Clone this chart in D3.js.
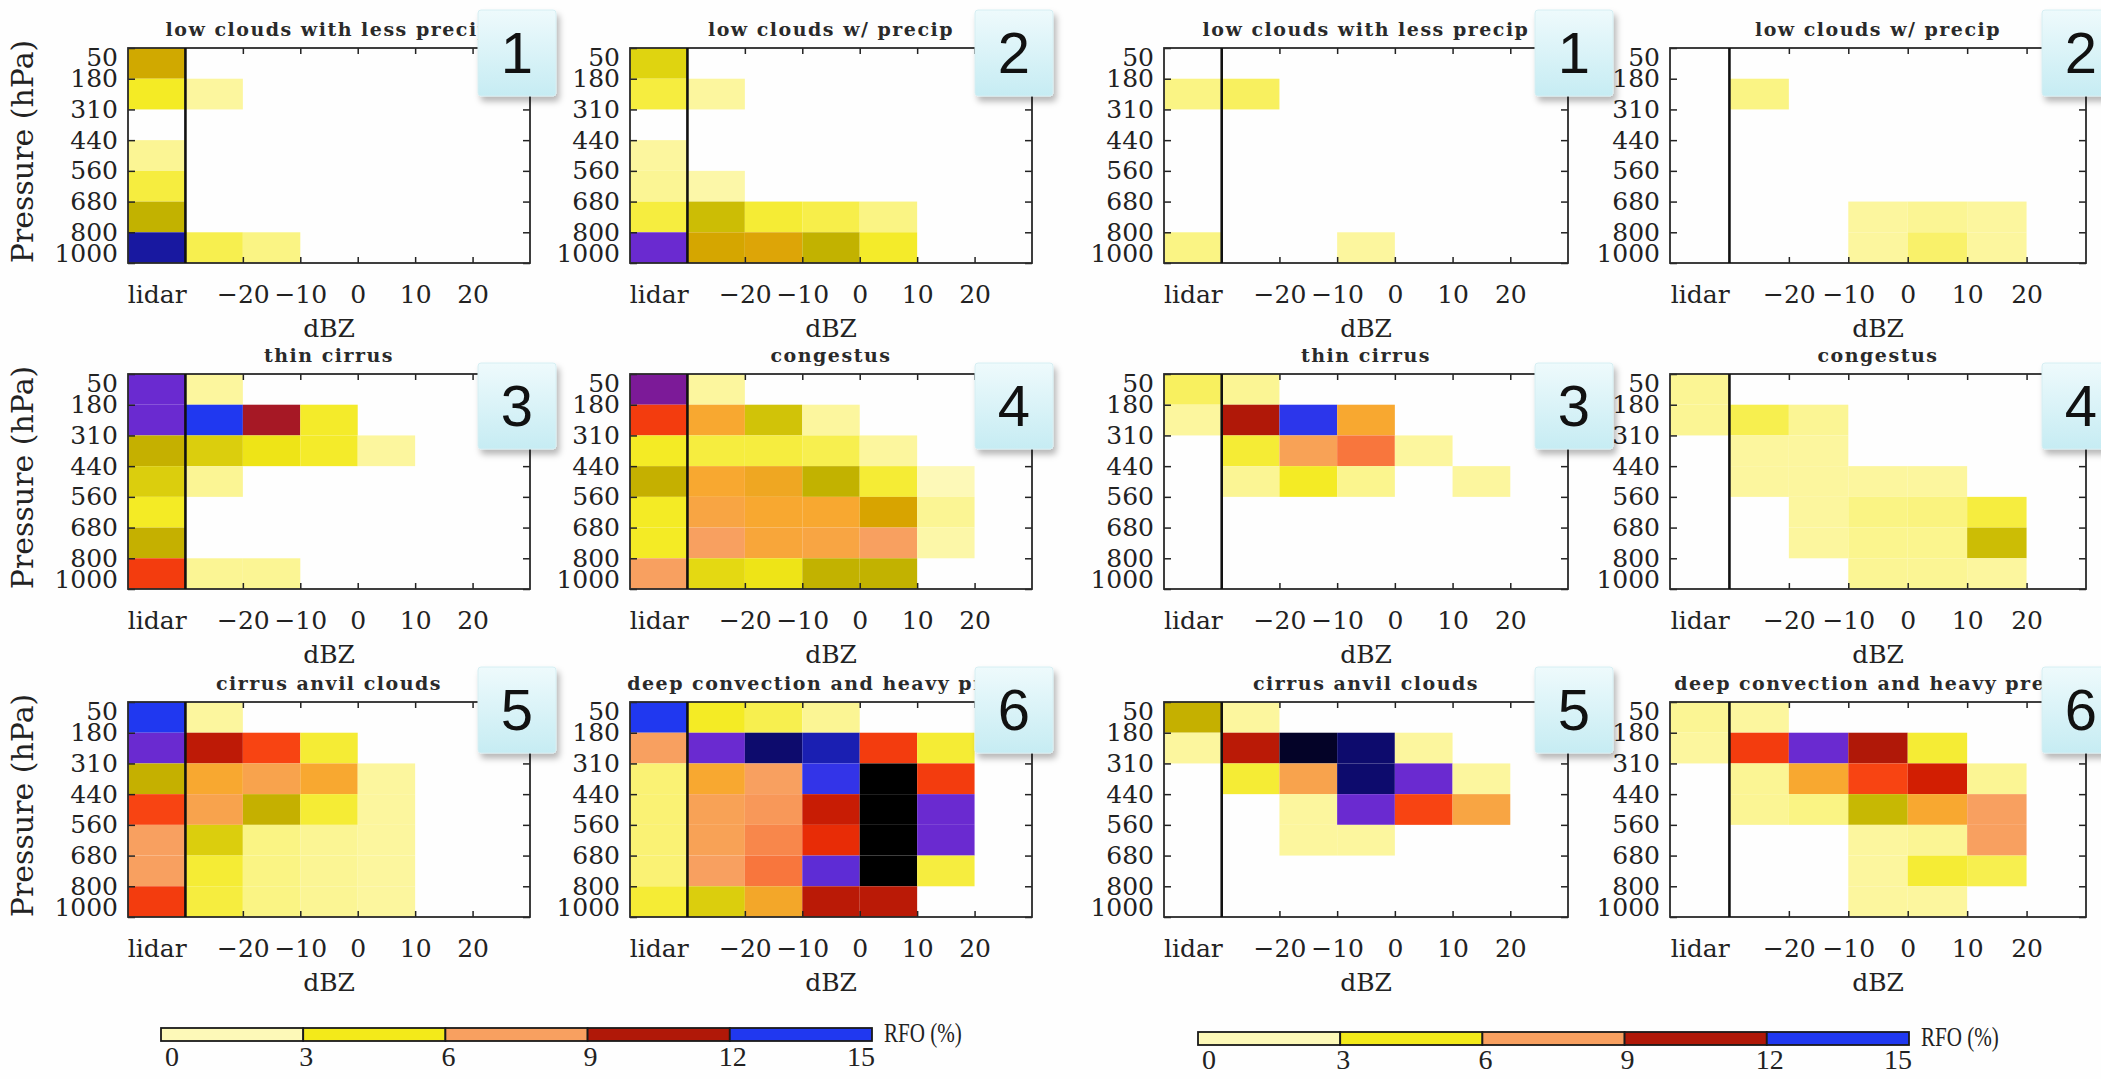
<!DOCTYPE html>
<html>
<head>
<meta charset="utf-8">
<script src="https://cdn.jsdelivr.net/npm/d3@7"></script>
<style>
  body { margin: 0; background: #fff; }
  svg { display: block; }
</style>
</head>
<body>
<svg id="chart" width="2101" height="1079"></svg>
<script>
// pressure levels (row edges) and dBZ bin edges (first bin = lidar column)
const levels = [50, 180, 310, 440, 560, 680, 800, 1000]
const binEdges = [-40, -30, -20, -10, 0, 10, 20, 30]
const xTicks = [-35, -20, -10, 0, 10, 20]
const titles = ['low clouds with less precip', 'low clouds w/ precip', 'thin cirrus',
                'congestus', 'cirrus anvil clouds', 'deep convection and heavy precip']
const boxLabels = ['1', '2', '3', '4', '5', '6']
const rfoTicks = [0, 3, 6, 9, 12, 15]

// RFO colour table
const colorStops = [0, 1, 1.5, 3, 4.5, 5.5, 6.3, 7, 7.5, 8.6, 9.5, 10.5, 11.5, 12.3, 13.5, 14.8, 15.8, 17]
const colorRange = ['#ffffff', '#fefcd8', '#fdf9b8', '#f9f16a', '#f3ea1a', '#c2b200', '#d8a400', '#f8a830',
                    '#f8a060', '#f84412', '#e02000', '#b01808', '#7c1a98', '#6a2ad0', '#2038f0', '#1818a0',
                    '#0a0860', '#000000']

// RFO (%) per panel: rows = pressure layers top->bottom, cols = lidar, -30..-20, ..., 20..30 dBZ
const leftLowLess = [
  [6.0, 0, 0, 0, 0, 0, 0],
  [4.3, 2.0, 0, 0, 0, 0, 0],
  [0, 0, 0, 0, 0, 0, 0],
  [2.2, 0, 0, 0, 0, 0, 0],
  [3.8, 0, 0, 0, 0, 0, 0],
  [5.5, 0, 0, 0, 0, 0, 0],
  [14.8, 3.5, 2.5, 0, 0, 0, 0]]
const leftLowPrecip = [
  [4.9, 0, 0, 0, 0, 0, 0],
  [3.8, 2.0, 0, 0, 0, 0, 0],
  [0, 0, 0, 0, 0, 0, 0],
  [2.0, 0, 0, 0, 0, 0, 0],
  [2.2, 1.8, 0, 0, 0, 0, 0],
  [3.8, 5.3, 4.0, 3.6, 2.5, 0, 0],
  [12.3, 6.2, 6.4, 5.5, 4.2, 0, 0]]
const leftThinCirrus = [
  [12.3, 2.0, 0, 0, 0, 0, 0],
  [12.3, 13.5, 10.7, 4.2, 0, 0, 0],
  [5.6, 5.0, 4.6, 4.2, 2.0, 0, 0],
  [5.0, 2.2, 0, 0, 0, 0, 0],
  [4.3, 0, 0, 0, 0, 0, 0],
  [5.6, 0, 0, 0, 0, 0, 0],
  [8.8, 2.2, 2.2, 0, 0, 0, 0]]
const leftCongestus = [
  [11.5, 2.0, 0, 0, 0, 0, 0],
  [8.8, 7.0, 5.2, 2.0, 0, 0, 0],
  [4.3, 3.8, 3.8, 3.5, 2.0, 0, 0],
  [5.6, 7.0, 6.8, 5.5, 4.0, 1.5, 0],
  [4.3, 7.2, 7.0, 7.0, 6.3, 2.2, 0],
  [4.3, 7.5, 7.1, 7.2, 7.5, 1.8, 0],
  [7.5, 4.8, 4.6, 5.5, 5.5, 0, 0]]
const leftAnvil = [
  [13.5, 2.0, 0, 0, 0, 0, 0],
  [12.3, 10.2, 8.6, 4.0, 0, 0, 0],
  [5.6, 7.0, 7.3, 7.0, 2.0, 0, 0],
  [8.6, 7.3, 5.6, 4.0, 2.0, 0, 0],
  [7.5, 5.0, 2.5, 2.2, 2.0, 0, 0],
  [7.5, 4.0, 2.5, 2.2, 2.0, 0, 0],
  [8.8, 3.8, 2.5, 2.2, 2.0, 0, 0]]
const leftDeep = [
  [13.5, 4.3, 3.5, 2.2, 0, 0, 0],
  [7.5, 12.3, 15.6, 14.5, 8.8, 4.0, 0],
  [2.8, 7.0, 7.5, 13.2, 17.5, 8.8, 0],
  [2.8, 7.4, 7.6, 10.0, 17.5, 12.3, 0],
  [2.8, 7.4, 7.8, 9.2, 17.5, 12.3, 0],
  [2.8, 7.5, 8.0, 12.5, 17.5, 3.8, 0],
  [4.0, 5.0, 6.9, 10.3, 10.3, 0, 0]]

const rightLowLess = [
  [0, 0, 0, 0, 0, 0, 0],
  [2.5, 3.2, 0, 0, 0, 0, 0],
  [0, 0, 0, 0, 0, 0, 0],
  [0, 0, 0, 0, 0, 0, 0],
  [0, 0, 0, 0, 0, 0, 0],
  [0, 0, 0, 0, 0, 0, 0],
  [2.5, 0, 0, 2.0, 0, 0, 0]]
const rightLowPrecip = [
  [0, 0, 0, 0, 0, 0, 0],
  [0, 2.5, 0, 0, 0, 0, 0],
  [0, 0, 0, 0, 0, 0, 0],
  [0, 0, 0, 0, 0, 0, 0],
  [0, 0, 0, 0, 0, 0, 0],
  [0, 0, 0, 2.0, 2.2, 2.0, 0],
  [0, 0, 0, 2.0, 3.0, 2.0, 0]]
const rightThinCirrus = [
  [3.2, 2.2, 0, 0, 0, 0, 0],
  [2.0, 10.5, 13.3, 7.0, 0, 0, 0],
  [0, 4.0, 7.4, 8.0, 2.0, 0, 0],
  [0, 2.2, 4.3, 2.3, 0, 2.0, 0],
  [0, 0, 0, 0, 0, 0, 0],
  [0, 0, 0, 0, 0, 0, 0],
  [0, 0, 0, 0, 0, 0, 0]]
const rightCongestus = [
  [2.2, 0, 0, 0, 0, 0, 0],
  [2.2, 3.5, 2.2, 0, 0, 0, 0],
  [0, 2.0, 2.0, 0, 0, 0, 0],
  [0, 2.0, 2.0, 2.0, 2.0, 0, 0],
  [0, 0, 2.0, 2.5, 2.6, 3.8, 0],
  [0, 0, 2.0, 2.3, 2.3, 5.3, 0],
  [0, 0, 0, 2.2, 2.2, 2.0, 0]]
const rightAnvil = [
  [5.6, 2.0, 0, 0, 0, 0, 0],
  [2.0, 10.3, 16.5, 15.6, 2.0, 0, 0],
  [0, 4.0, 7.3, 15.6, 12.3, 2.0, 0],
  [0, 0, 2.0, 12.3, 8.6, 7.2, 0],
  [0, 0, 2.0, 2.0, 0, 0, 0],
  [0, 0, 0, 0, 0, 0, 0],
  [0, 0, 0, 0, 0, 0, 0]]
const rightDeep = [
  [2.2, 2.0, 0, 0, 0, 0, 0],
  [2.0, 8.8, 12.3, 10.5, 4.0, 0, 0],
  [0, 2.2, 7.0, 8.6, 9.8, 2.2, 0],
  [0, 2.2, 2.5, 5.4, 7.0, 7.5, 0],
  [0, 0, 0, 2.0, 2.2, 7.5, 0],
  [0, 0, 0, 2.0, 4.0, 3.5, 0],
  [0, 0, 0, 2.0, 2.0, 0, 0]]

const leftPanels = [leftLowLess, leftLowPrecip, leftThinCirrus, leftCongestus, leftAnvil, leftDeep]
const rightPanels = [rightLowLess, rightLowPrecip, rightThinCirrus, rightCongestus, rightAnvil, rightDeep]

// layout
const frameLeft = [128, 630, 1164, 1670]
const frameWidth = [402, 402, 404, 416]
const frameTop = [48, 374, 702]
const frameH = 215
const boxX = [478, 975, 1535, 2042]
const boxY = [10, 363, 667]
const barX = [161, 1198], barW = 711, barY = [1028, 1032], barH = [13, 13], barLabelY = [1066, 1069]

const serif = 'DejaVu Serif, serif'
const ink = '#222'

const svg = d3.select('#chart')
const color = d3.scaleLinear().domain(colorStops).range(colorRange).clamp(true)

const defs = svg.append('defs')
const grad = defs.append('linearGradient').attr('id', 'boxGrad')
    .attr('x1', 0).attr('y1', 0).attr('x2', 0).attr('y2', 1)
grad.append('stop').attr('offset', '0%').attr('stop-color', '#eefafc')
grad.append('stop').attr('offset', '100%').attr('stop-color', '#c6ecf3')
defs.append('filter').attr('id', 'shadow').attr('x', '-20%').attr('y', '-20%').attr('width', '150%').attr('height', '150%')
    .append('feDropShadow').attr('dx', 3).attr('dy', 5).attr('stdDeviation', 3)
    .attr('flood-color', '#000').attr('flood-opacity', 0.28)

svg.append('rect').attr('width', 2101).attr('height', 1079).attr('fill', '#fefefe')

const fmtX = d => d === -35 ? 'lidar' : (d < 0 ? '\u2212' + (-d) : String(d))

function drawPanel(data, p, row, col){
    const w = frameWidth[col], h = frameH
    const g = svg.append('g').attr('transform', `translate(${frameLeft[col]},${frameTop[row]})`)
    const x = d3.scaleLinear().domain([binEdges[0], binEdges[binEdges.length - 1]]).range([0, w])
    const y = d3.scalePoint().domain(levels).range([0, h])

    const cells = []
    data.forEach((vals, r) => vals.forEach((v, c) => { if (v > 0) cells.push({ r, c, v }) }))
    g.selectAll('rect.cell').data(cells).join('rect')
        .attr('class', 'cell')
        .attr('x', d => x(binEdges[d.c]))
        .attr('width', d => x(binEdges[d.c + 1]) - x(binEdges[d.c]))
        .attr('y', d => y(levels[d.r]))
        .attr('height', d => y(levels[d.r + 1]) - y(levels[d.r]))
        .attr('fill', d => color(d.v))

    // axes, ticks inward
    const left = g.append('g')
        .call(d3.axisLeft(y).tickSizeInner(-7).tickSizeOuter(0).tickPadding(10))
    const right = g.append('g').attr('transform', `translate(${w},0)`)
        .call(d3.axisRight(y).tickSizeInner(-7).tickSizeOuter(0).tickFormat(''))
    const top = g.append('g')
        .call(d3.axisTop(x).tickValues(xTicks.slice(1)).tickSizeInner(-6).tickSizeOuter(0).tickFormat(''))
    const bottom = g.append('g').attr('transform', `translate(0,${h})`)
        .call(d3.axisBottom(x).tickValues(xTicks).tickSizeInner(-6).tickSizeOuter(0).tickPadding(22).tickFormat(fmtX))
    bottom.selectAll('.tick').filter(d => d === -35).select('line').remove()
    ;[left, right, top, bottom].forEach(a => {
        a.select('.domain').remove()
        a.attr('font-family', serif).attr('font-size', 25).attr('color', ink)
        a.selectAll('line').attr('stroke-width', 1.5)
    })
    left.selectAll('.tick text').attr('transform', (d, i) => i === 0 ? 'translate(0,9)' : (i === levels.length - 1 ? 'translate(0,-10)' : null))

    g.append('rect').attr('width', w).attr('height', h)
        .attr('fill', 'none').attr('stroke', '#2a2a2a').attr('stroke-width', 1.8)
    g.append('line').attr('x1', x(binEdges[1])).attr('x2', x(binEdges[1]))
        .attr('y1', 0).attr('y2', h).attr('stroke', '#111').attr('stroke-width', 2.6)

    g.append('text').attr('x', w / 2).attr('y', -12).attr('text-anchor', 'middle')
        .attr('font-family', serif).attr('font-weight', 'bold').attr('font-size', 19)
        .attr('letter-spacing', 1.5).attr('fill', '#2a2a2a').text(titles[p])
    g.append('text').attr('x', w / 2).attr('y', h + 74).attr('text-anchor', 'middle')
        .attr('font-family', serif).attr('font-size', 25).attr('fill', ink).text('dBZ')
    if (col === 0) {
        g.append('text').attr('transform', `translate(${33 - frameLeft[0]},${h / 2 - 4}) rotate(-90)`)
            .attr('text-anchor', 'middle').attr('font-family', serif).attr('font-size', 30)
            .attr('fill', ink).text('Pressure (hPa)')
    }
}

[leftPanels, rightPanels].forEach((panels, half) => {
    panels.forEach((data, p) => drawPanel(data, p, Math.floor(p / 2), half * 2 + p % 2))
})

// colour bars
;[0, 1].forEach(half => {
    const cb = svg.append('g')
    const cx = d3.scaleLinear().domain([rfoTicks[0], rfoTicks[rfoTicks.length - 1]]).range([barX[half], barX[half] + barW])
    const last = rfoTicks.length - 1
    cb.selectAll('rect').data(d3.pairs(rfoTicks)).join('rect')
        .attr('x', d => cx(d[0])).attr('width', d => cx(d[1]) - cx(d[0]))
        .attr('y', barY[half]).attr('height', barH[half])
        .attr('fill', d => color((d[0] + d[1]) / 2))
        .attr('stroke', '#1a1a1a').attr('stroke-width', 1.8)
    cb.selectAll('text.lab').data(rfoTicks).join('text')
        .attr('class', 'lab')
        .attr('x', (d, i) => cx(d) + (i === 0 ? 11 : i === last ? -11 : 3)).attr('y', barLabelY[half])
        .attr('text-anchor', 'middle').attr('font-family', 'Liberation Serif, serif')
        .attr('font-size', 28).attr('fill', ink).text(d => d)
    cb.append('text')
        .attr('transform', `translate(${barX[half] + barW + 12},${barY[half] + 14}) scale(0.78,1)`)
        .attr('font-family', 'Liberation Serif, serif').attr('font-size', 27)
        .attr('fill', ink).text('RFO (%)')
})

// numbered boxes on top
;[0, 1].forEach(half => {
    boxLabels.forEach((lab, p) => {
        const col = half * 2 + p % 2, row = Math.floor(p / 2)
        const b = svg.append('g').attr('transform', `translate(${boxX[col]},${boxY[row]})`)
        b.append('rect').attr('width', 78).attr('height', 86).attr('rx', 3)
            .attr('fill', 'url(#boxGrad)').attr('stroke', '#d6eef2').attr('stroke-width', 1)
            .attr('filter', 'url(#shadow)')
        b.append('text').attr('x', 39).attr('y', 63).attr('text-anchor', 'middle')
            .attr('font-family', 'Liberation Sans, Arial, sans-serif').attr('font-size', 58)
            .attr('fill', '#111').text(lab)
    })
})
</script>
</body>
</html>
